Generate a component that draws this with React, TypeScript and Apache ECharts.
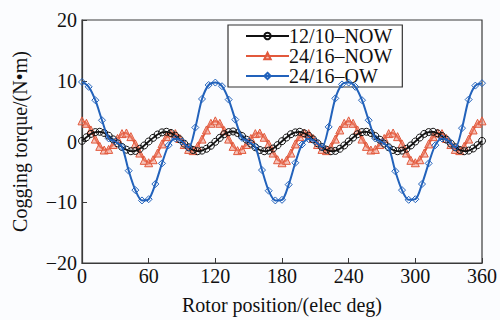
import React, { useEffect, useRef } from "react";
import * as echarts from "echarts";

const xTicks = [0, 60, 120, 180, 240, 300, 360];
const yTicks = [-20, -10, 0, 10, 20];

const seriesNames = ["12/10–NOW", "24/16–NOW", "24/16–OW"];

// 12/10-NOW, sampled every 4 deg from 0 to 360
const blackStep = 4;
const black = [
  0.1, 0.7, 1.25, 1.55, 1.6, 1.4, 0.95, 0.35, -0.3, -0.9, -1.35, -1.6, -1.55, -1.2, -0.65,
  0.0, 0.6, 1.15, 1.5, 1.6, 1.4, 0.95, 0.35, -0.35, -0.95, -1.4, -1.6, -1.5, -1.2, -0.7,
  -0.05, 0.6, 1.2, 1.55, 1.65, 1.4, 0.9, 0.3, -0.35, -0.95, -1.4, -1.6, -1.5, -1.15, -0.6,
  0.05, 0.65, 1.2, 1.5, 1.6, 1.35, 0.95, 0.35, -0.3, -0.9, -1.35, -1.6, -1.55, -1.2, -0.65,
  0.0, 0.65, 1.2, 1.55, 1.6, 1.4, 0.9, 0.3, -0.35, -0.95, -1.4, -1.6, -1.5, -1.2, -0.65,
  0.0, 0.65, 1.25, 1.55, 1.6, 1.35, 0.9, 0.3, -0.35, -0.95, -1.4, -1.6, -1.5, -1.15, -0.6,
  0.1,
];

// 24/16-NOW, sampled every 4 deg
const redStep = 4;
const red = [
  3.4, 3.0, 1.9, 0.4, -0.8, -1.4, -1.3, -0.5, 0.5, 1.3, 1.4, 0.8, -0.4, -1.9, -3.1,
  -3.5, -3.0, -1.9, -0.4, 0.8, 1.4, 1.3, 0.5, -0.5, -1.3, -1.5, -0.8, 0.4, 1.9, 3.0,
  3.4, 3.0, 1.8, 0.4, -0.8, -1.5, -1.3, -0.5, 0.5, 1.3, 1.4, 0.7, -0.4, -1.9, -3.0,
  -3.5, -3.1, -1.9, -0.4, 0.8, 1.4, 1.3, 0.5, -0.5, -1.3, -1.5, -0.9, 0.4, 1.9, 3.0,
  3.4, 3.0, 1.9, 0.4, -0.8, -1.4, -1.3, -0.5, 0.5, 1.3, 1.4, 0.8, -0.4, -1.9, -3.1,
  -3.5, -3.0, -1.9, -0.4, 0.8, 1.4, 1.3, 0.5, -0.5, -1.3, -1.5, -0.8, 0.4, 1.9, 3.0,
  3.4,
];

// 24/16-OW, sampled every 6 deg
const blueStep = 6;
const blue = [
  9.8, 9.0, 6.8, 3.5, 0.5, 0.0, -0.9, -4.8, -8.0, -9.7, -9.5, -7.0, -3.6, -0.6, 0.5, 0.0, -1.0, 2.3, 7.0, 9.3,
  9.7, 9.1, 6.9, 3.6, 0.6, 0.0, -0.9, -4.7, -8.1, -9.7, -9.6, -7.1, -3.5, -0.5, 0.4, 0.0, -0.9, 2.4, 7.1, 9.4,
  9.7, 9.0, 6.8, 3.5, 0.5, -0.1, -1.0, -4.9, -8.0, -9.6, -9.5, -7.0, -3.6, -0.6, 0.5, 0.1, -1.0, 2.2, 6.9, 9.2,
  9.6,
];

const toPairs = (vals: number[], step: number) => vals.map((v, i) => [i * step, v]);

const FONT = "'Liberation Serif', 'Times New Roman', serif";
const BLACK = "#111111";
const RED = "#e2593c";
const BLUE = "#2262bb";

export default function App() {
  const ref = useRef<HTMLDivElement>(null);
  useEffect(() => {
    if (!ref.current) return;
    const chart = echarts.init(ref.current, undefined, { renderer: "svg" });
    const minus = (v: number) => String(v).replace("-", "−");
    chart.setOption({
      animation: false,
      backgroundColor: "#fbfcfe",
      textStyle: { fontFamily: FONT },
      grid: {
        left: 82,
        right: 8,
        top: 20,
        bottom: 54,
        show: true,
        borderColor: "#3a3a3a",
        borderWidth: 1.2,
        backgroundColor: "transparent",
      },
      legend: {
        orient: "vertical",
        left: 228,
        top: 25,
        padding: [1, 10, 1, 17],
        itemWidth: 43,
        itemHeight: 8,
        itemGap: 0,
        backgroundColor: "#ffffff",
        borderColor: "#333",
        borderWidth: 1.2,
        borderRadius: 0,
        data: seriesNames,
        textStyle: {
          fontFamily: FONT,
          fontSize: 20,
          color: "#111",
          lineHeight: 19,
          padding: [0, 0, 0, -5],
        },
      },
      xAxis: {
        type: "value",
        min: 0,
        max: 360,
        interval: 60,
        name: "Rotor position/(elec deg)",
        nameLocation: "middle",
        nameGap: 32,
        nameTextStyle: { fontFamily: FONT, fontSize: 20, color: "#111" },
        axisLine: { show: true, onZero: false, lineStyle: { color: "#3a3a3a", width: 1.2 } },
        axisTick: { show: true, inside: true, length: 5, lineStyle: { color: "#3a3a3a" } },
        axisLabel: { fontFamily: FONT, fontSize: 20, color: "#111", margin: 3 },
        splitLine: { show: false },
      },
      yAxis: {
        type: "value",
        min: -20,
        max: 20,
        interval: 10,
        name: "Cogging torque/(N•m)",
        nameLocation: "middle",
        nameGap: 52,
        nameRotate: 90,
        nameTextStyle: { fontFamily: FONT, fontSize: 20, color: "#111" },
        axisLine: { show: true, onZero: false, lineStyle: { color: "#3a3a3a", width: 1.2 } },
        axisTick: { show: true, inside: true, length: 5, lineStyle: { color: "#3a3a3a" } },
        axisLabel: { fontFamily: FONT, fontSize: 20, color: "#111", margin: 5, formatter: minus },
        splitLine: { show: false },
      },
      series: [
        {
          name: seriesNames[0],
          type: "line",
          data: toPairs(black, blackStep),
          smooth: 0.3,
          symbol: "circle",
          symbolSize: 7,
          lineStyle: { color: BLACK, width: 1.8 },
          itemStyle: { color: "rgba(255,255,255,0)", borderColor: BLACK, borderWidth: 1 },
          z: 4,
        },
        {
          name: seriesNames[1],
          type: "line",
          data: toPairs(red, redStep),
          symbol: "triangle",
          symbolSize: 8,
          lineStyle: { color: RED, width: 2 },
          itemStyle: { color: "rgba(240,140,120,0.5)", borderColor: RED, borderWidth: 1 },
          z: 3,
        },
        {
          name: seriesNames[2],
          type: "line",
          data: toPairs(blue, blueStep),
          smooth: 0.3,
          symbol: "diamond",
          symbolSize: 7,
          lineStyle: { color: BLUE, width: 2 },
          itemStyle: { color: "rgba(255,255,255,0)", borderColor: BLUE, borderWidth: 1 },
          z: 5,
        },
      ],
    });
    return () => chart.dispose();
  }, []);
  return (
    <div
      ref={ref}
      style={{ position: "absolute", left: 0, top: 0, width: 500, height: 320 }}
    />
  );
}
